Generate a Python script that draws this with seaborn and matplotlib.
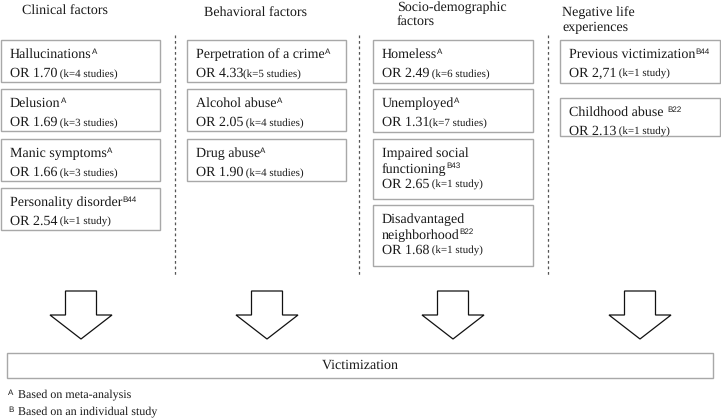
import matplotlib
matplotlib.use("Agg")
import matplotlib.pyplot as plt
from matplotlib.patches import Rectangle, Polygon
import seaborn as sns

# — diagram content —
headers = ["Clinical factors", "Behavioral factors",
           "Socio-demographic\nfactors", "Negative life\nexperiences"]

clinical_names = ["Hallucinations", "Delusion", "Manic symptoms", "Personality disorder"]
clinical_refs = ["A", "A", "A", "B44"]
clinical_or = ["OR 1.70", "OR 1.69", "OR 1.66", "OR 2.54"]
clinical_k = [" (k=4 studies)", " (k=3 studies)", " (k=3 studies)", " (k=1 study)"]

behavioral_names = ["Perpetration of a crime", "Alcohol abuse", "Drug abuse"]
behavioral_refs = ["A", "A", "A"]
behavioral_or = ["OR 4.33", "OR 2.05", "OR 1.90"]
behavioral_k = ["(k=5 studies)", " (k=4 studies)", " (k=4 studies)"]

socio_names = ["Homeless", "Unemployed", "Impaired social\nfunctioning", "Disadvantaged\nneighborhood"]
socio_refs = ["A", "A", "B43", "B22"]
socio_or = ["OR 2.49", "OR 1.31", "OR 2.65", "OR 1.68"]
socio_k = [" (k=6 studies)", "(k=7 studies)", " (k=1 study)", " (k=1 study)"]

negative_names = ["Previous victimization", "Childhood abuse "]
negative_refs = ["B44", "B22"]
negative_or = ["OR 2,71", "OR 2.13"]
negative_k = [" (k=1 study)", " (k=1 study)"]

outcome = "Victimization"
footnote_marks = ["A", "B"]
footnote_texts = ["Based on meta-analysis", "Based on an individual study"]

# — layout (pixel units, y downwards) —
col_left = [1, 187, 373, 560]
col_right = [160, 346, 533, 720]
box_tops = [[40, 89, 139, 188], [40, 89, 139], [40, 89, 139, 205], [40, 98]]
box_heights = [[42, 42, 42, 42], [42, 42, 42], [43, 43, 60, 61], [43, 38]]
header_x = [22, 204, 397, 562]
header_y = [11, 13, 15, 20]
divider_x = [175, 359, 548]
arrow_x = [81, 267, 453, 640]

columns = [
    (clinical_names, clinical_refs, clinical_or, clinical_k),
    (behavioral_names, behavioral_refs, behavioral_or, behavioral_k),
    (socio_names, socio_refs, socio_or, socio_k),
    (negative_names, negative_refs, negative_or, negative_k),
]

sns.set_style("white")
plt.rcParams["font.family"] = ["Liberation Serif", "DejaVu Serif"]
plt.rcParams["text.hinting"] = "no_hinting"
plt.rcParams["text.hinting_factor"] = 1

W, H = 721, 419
fig = plt.figure(figsize=(W / 100, H / 100), dpi=100)
ax = fig.add_axes([0, 0, 1, 1])
ax.set_xlim(0, W)
ax.set_ylim(H, 0)
ax.axis("off")
renderer = fig.canvas.get_renderer()

MAIN = 10.2
SMALL = 8.2
SUP = 5.6
ink = "#1a1a1a"
box_edge = "#a8a8a8"


def right_edge(t):
    # x position (data units) where a text ends
    bb = t.get_window_extent(renderer)
    return ax.transData.inverted().transform((bb.x1, bb.y0))[0]


def text_line(x, y, s, size):
    # draw text with its baseline at y
    return ax.text(x, y, s, ha="left", va="baseline", fontsize=size, color=ink)


for ci, (names, refs, ors, ks) in enumerate(columns):
    ax.text(header_x[ci], header_y[ci], headers[ci], ha="left", va="center",
            fontsize=MAIN, linespacing=1.15, color=ink)
    x0, x1 = col_left[ci], col_right[ci]
    for bi, name in enumerate(names):
        top, h = box_tops[ci][bi], box_heights[ci][bi]
        ax.add_patch(Rectangle((x0, top), x1 - x0, h, fill=False,
                               edgecolor=box_edge, lw=1.0))
        lines = name.split("\n")
        step = 19 if len(lines) == 1 else 15.5
        ys = [top + 18 + i * step for i in range(len(lines) + 1)]
        t = None
        for li, ln in enumerate(lines):
            t = text_line(x0 + 9, ys[li], ln, MAIN)
        ax.text(right_edge(t), ys[len(lines) - 1] - 4.5, refs[bi], ha="left",
                va="baseline", fontsize=SUP, family="Liberation Sans", color=ink)
        t2 = text_line(x0 + 9, ys[-1], ors[bi], MAIN)
        text_line(right_edge(t2), ys[-1], ks[bi], SMALL)

# dashed dividers
for dx in divider_x:
    ax.plot([dx, dx], [35, 276], ls=(0, (2.2, 2.2)), color="#555", lw=0.9)

# block arrows
for axx in arrow_x:
    pts = [(axx - 15.5, 291), (axx + 15.5, 291), (axx + 15.5, 315), (axx + 31, 315),
           (axx, 339), (axx - 31, 315), (axx - 15.5, 315)]
    ax.add_patch(Polygon(pts, closed=True, facecolor="white", edgecolor="#111", lw=0.9))

# outcome box
ax.add_patch(Rectangle((7, 353), 706, 25, fill=False, edgecolor=box_edge, lw=1.0))
ax.text(360, 365.5, outcome, ha="center", va="center", fontsize=MAIN, color=ink)

# footnotes
for i, (m, txt) in enumerate(zip(footnote_marks, footnote_texts)):
    y = 395 + i * 17
    ax.text(8, y - 2, m, ha="left", va="center", fontsize=5.8, family="Liberation Sans", color=ink)
    ax.text(17.5, y, txt, ha="left", va="center", fontsize=8.6, color=ink)

fig.savefig("out.png", dpi=100, facecolor="white")
